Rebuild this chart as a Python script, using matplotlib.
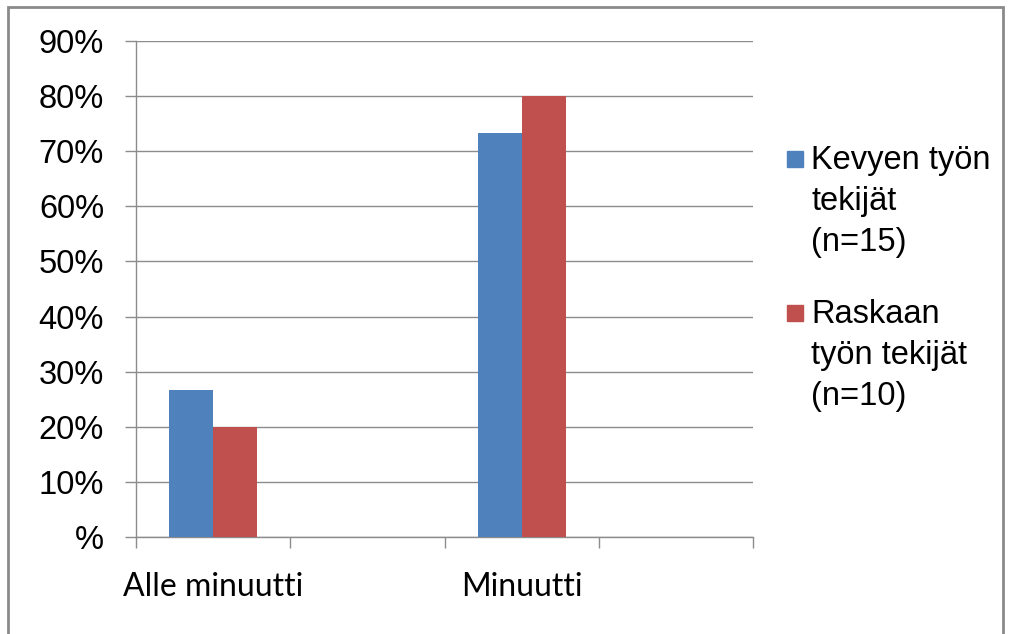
import matplotlib
matplotlib.use("Agg")
import matplotlib.pyplot as plt
from matplotlib.patches import Rectangle
from matplotlib.ticker import FuncFormatter

# four category slots, only two of them carry data / labels
categories = ["Alle minuutti", "", "Minuutti", ""]
kevyt = [26.7, None, 73.3, None]   # Kevyen työn tekijät (n=15)
raskas = [20.0, None, 80.0, None]  # Raskaan työn tekijät (n=10)
series_names = ["Kevyen työn\ntekijät\n(n=15)", "Raskaan\ntyön tekijät\n(n=10)"]
colors = ["#4F81BD", "#C0504D"]
yticks = [0, 10, 20, 30, 40, 50, 60, 70, 80, 90]

grid_col = "#8C8C8C"
W, H = 1009, 634
fig = plt.figure(figsize=(W / 100, H / 100), dpi=100)
ax = fig.add_axes([136 / W, 1 - 537 / H, (753 - 136) / W, (537 - 41) / H])

width = 2 / 7
for i, (a, b) in enumerate(zip(kevyt, raskas)):
    if a is not None:
        ax.bar(i - width / 2, a, width, color=colors[0], zorder=3)
    if b is not None:
        ax.bar(i + width / 2, b, width, color=colors[1], zorder=3)

ax.set_xlim(-0.5, len(categories) - 0.5)
ax.set_ylim(0, 90)
ax.set_yticks(yticks)
ax.yaxis.set_major_formatter(FuncFormatter(lambda v, p: "%" if v == 0 else f"{v:.0f}%"))
ax.grid(axis="y", color=grid_col, linewidth=1, zorder=0)
ax.tick_params(axis="y", length=8, width=1, color=grid_col, pad=15,
               labelsize=23.5, labelfontfamily="Liberation Sans")

# category boundaries as ticks, labels centred in slots
ax.set_xticks([i - 0.5 for i in range(len(categories) + 1)])
ax.set_xticklabels([])
ax.set_xticks(range(len(categories)), minor=True)
ax.set_xticklabels(categories, minor=True, fontsize=23, fontfamily="Lato")
ax.tick_params(axis="x", which="major", length=8, width=1, color=grid_col)
ax.tick_params(axis="x", which="minor", length=0, pad=25)

for s in ["top", "right"]:
    ax.spines[s].set_visible(False)
for s in ["left", "bottom"]:
    ax.spines[s].set_color(grid_col)
    ax.spines[s].set_linewidth(1)

# legend drawn by hand so the marker sits on the first line
first_baseline = [169, 323]
line_step = 41
for name, col, base in zip(series_names, colors, first_baseline):
    fig.patches.append(Rectangle((787 / W, 1 - (base - 2) / H), 16 / W, 16 / H,
                                 transform=fig.transFigure, color=col))
    for k, line in enumerate(name.split("\n")):
        fig.text(811 / W, 1 - (base + k * line_step) / H, line, fontsize=23.5,
                 va="baseline", ha="left", fontfamily="Liberation Sans")

# outer chart frame
fig.patches.append(Rectangle((8 / W, -0.05), (1003 - 8) / W, 1.05 - 7 / H,
                             transform=fig.transFigure, fill=False,
                             edgecolor="#8A8A8A", linewidth=2))

fig.savefig("out.png", dpi=100)
